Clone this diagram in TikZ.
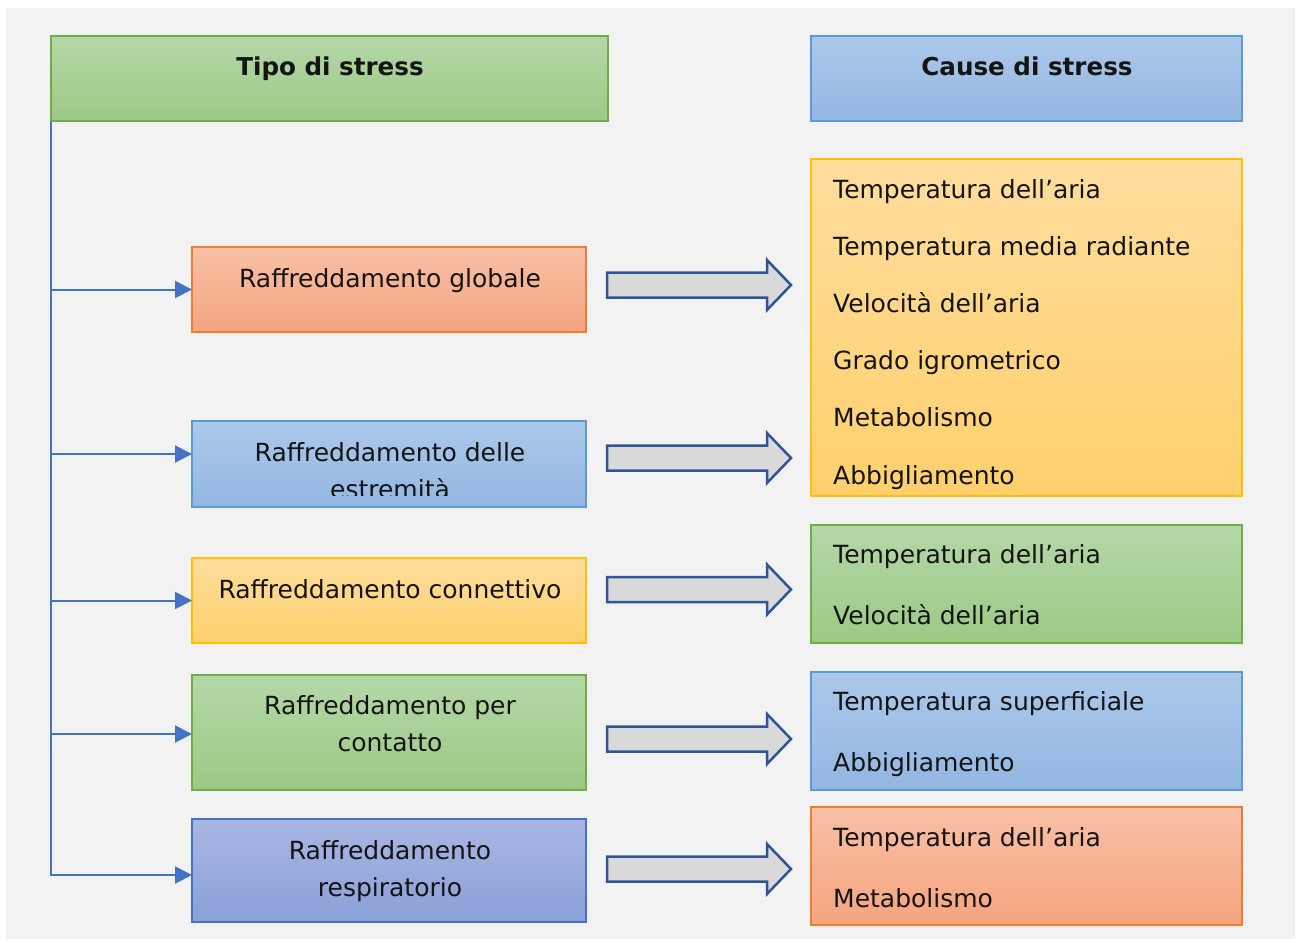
\documentclass[tikz,border=0pt]{standalone}
\usepackage{fontspec}
\setmainfont{DejaVu Sans}
\usetikzlibrary{arrows.meta}
\definecolor{bgc}{HTML}{F2F2F2}
\definecolor{grT}{HTML}{B5D7A8}\definecolor{grB}{HTML}{9CC985}\definecolor{grD}{HTML}{70AD47}
\definecolor{blT}{HTML}{ABC8EA}\definecolor{blB}{HTML}{93B7E2}\definecolor{blD}{HTML}{5B9BD5}
\definecolor{orT}{HTML}{F8C0A6}\definecolor{orB}{HTML}{F5A47F}\definecolor{orD}{HTML}{ED7D31}
\definecolor{yeT}{HTML}{FFDD9E}\definecolor{yeB}{HTML}{FFD06C}\definecolor{yeD}{HTML}{FFC000}
\definecolor{puT}{HTML}{A9B6E2}\definecolor{puB}{HTML}{8AA0D8}\definecolor{puD}{HTML}{4472C4}
\definecolor{conn}{HTML}{4472C4}
\definecolor{barrowD}{HTML}{2F5597}
\definecolor{barrowF}{HTML}{D9D9D9}
\definecolor{ink}{HTML}{141414}
\begin{document}
\begin{tikzpicture}[x=1pt,y=-1pt,
  box/.style={draw, line width=1.5pt, inner sep=0pt, outer sep=0pt, anchor=north west},
  greenbox/.style={box, draw=grD, top color=grT, bottom color=grB},
  bluebox/.style={box, draw=blD, top color=blT, bottom color=blB},
  orangebox/.style={box, draw=orD, top color=orT, bottom color=orB},
  yellowbox/.style={box, draw=yeD, top color=yeT, bottom color=yeB},
  purplebox/.style={box, draw=puD, top color=puT, bottom color=puB},
  txt/.style={font=\fontsize{25}{30}\selectfont, inner sep=0pt, anchor=base, text=ink},
  ltxt/.style={txt, anchor=base west},
  htxt/.style={txt, font=\fontsize{24.6}{29}\selectfont\bfseries},
  link/.style={draw=conn, line width=2pt, -{Triangle[length=17pt,width=17pt]}},
  blockarrow/.style={draw=barrowD, fill=barrowF, line width=2.5pt, line join=miter}
]
\useasboundingbox (0,0) rectangle (1304,942);
\fill[white] (0,0) rectangle (1304,942);
\fill[bgc] (6,8) rectangle (1295,939);

% headers
\node[greenbox, minimum width=557pt, minimum height=85pt] (hl) at (51,36) {};
\node[bluebox, minimum width=431pt, minimum height=85pt] (hr) at (811,36) {};
\node[htxt] (hlt) at (330,75) {Tipo di stress};
\node[htxt] (hrt) at (1027,75) {Cause di stress};

% left boxes
\node[orangebox, minimum width=394pt, minimum height=85pt] (b1) at (192,247) {};
\node[bluebox, minimum width=394pt, minimum height=86pt] (b2) at (192,421) {};
\node[yellowbox, minimum width=394pt, minimum height=85pt] (b3) at (192,558) {};
\node[greenbox, minimum width=394pt, minimum height=115pt] (b4) at (192,675) {};
\node[purplebox, minimum width=394pt, minimum height=103pt] (b5) at (192,819) {};

\node[txt] (t1) at (390,287) {Raffreddamento globale};
\node[txt] (t2a) at (390,461) {Raffreddamento delle};
\begin{scope}
\clip (192,421) rectangle (586,495.5);
\node[txt] (t2b) at (390,498) {estremità};
\end{scope}
\node[txt] (t3) at (390,598) {Raffreddamento connettivo};
\node[txt] (t4a) at (390,714) {Raffreddamento per};
\node[txt] (t4b) at (390,751) {contatto};
\node[txt] (t5a) at (390,859) {Raffreddamento};
\node[txt] (t5b) at (390,896) {respiratorio};

% right boxes
\node[yellowbox, minimum width=431pt, minimum height=337pt] (r1) at (811,159) {};
\node[greenbox, minimum width=431pt, minimum height=118pt] (r2) at (811,525) {};
\node[bluebox, minimum width=431pt, minimum height=118pt] (r3) at (811,672) {};
\node[orangebox, minimum width=431pt, minimum height=118pt] (r4) at (811,807) {};

\node[ltxt] (y1) at (833,198) {Temperatura dell’aria};
\node[ltxt] (y2) at (833,255) {Temperatura media radiante};
\node[ltxt] (y3) at (833,312) {Velocità dell’aria};
\node[ltxt] (y4) at (833,369) {Grado igrometrico};
\node[ltxt] (y5) at (833,426) {Metabolismo};
\node[ltxt] (y6) at (833,484) {Abbigliamento};
\node[ltxt] (g1) at (833,563) {Temperatura dell’aria};
\node[ltxt] (g2) at (833,624) {Velocità dell’aria};
\node[ltxt] (c1) at (833,710) {Temperatura superficiale};
\node[ltxt] (c2) at (833,771) {Abbigliamento};
\node[ltxt] (o1) at (833,846) {Temperatura dell’aria};
\node[ltxt] (o2) at (833,907) {Metabolismo};

% connectors
\draw[link] (hl.south west) |- (b1.west);
\draw[link] (hl.south west) |- ([yshift=10pt]b2.west);
\draw[link] (hl.south west) |- (b3.west);
\draw[link] (hl.south west) |- ([yshift=-1.5pt]b4.west);
\draw[link] (hl.south west) |- ([yshift=-4.5pt]b5.west);

% block arrows
\foreach \cy/\nm in {285/a1,458/a2,589.5/a3,739/a4,869/a5}{
  \coordinate (\nm) at (607,\cy);
  \draw[blockarrow] (\nm) ++(0,-12.5) -- ++(160,0) -- ++(0,-12.5) -- ++(24,25) -- ++(-24,25) -- ++(0,-12.5) -- ++(-160,0) -- cycle;
}
\end{tikzpicture}
\end{document}
